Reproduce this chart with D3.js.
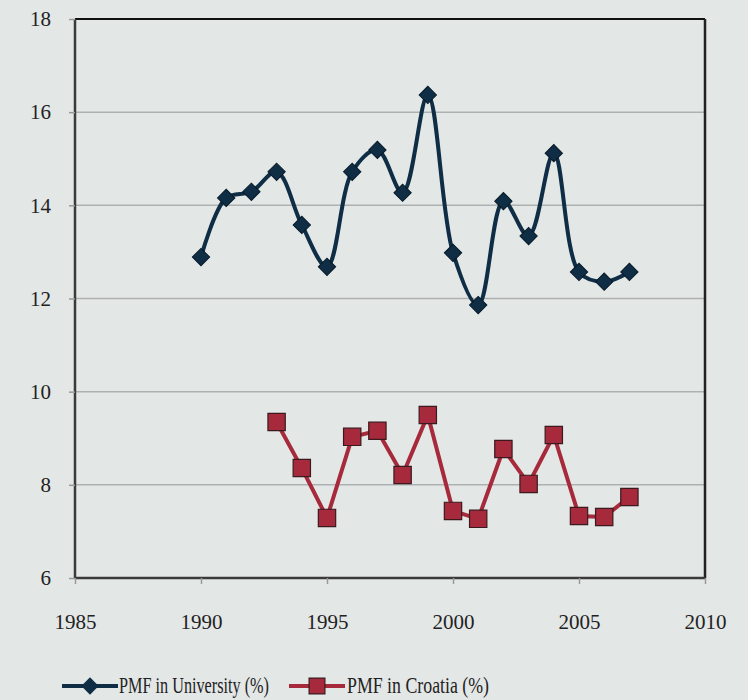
<!DOCTYPE html>
<html>
<head>
<meta charset="utf-8">
<script src="https://cdn.jsdelivr.net/npm/d3@7/dist/d3.min.js"></script>
<style>
  body { margin: 0; background: #e3e7e6; }
  svg { display: block; }
  text { font-family: "Liberation Serif", "DejaVu Serif", serif; fill: #222; }
</style>
</head>
<body>
<svg id="chart" width="748" height="700"></svg>
<script>
var width = 748;
var height = 700;

/* data */
var uni_years = [1990, 1991, 1992, 1993, 1994, 1995, 1996, 1997, 1998, 1999,
                 2000, 2001, 2002, 2003, 2004, 2005, 2006, 2007];
var uni_values = [12.89, 14.16, 14.29, 14.72, 13.58, 12.68, 14.72, 15.19, 14.27, 16.37,
                  12.98, 11.86, 14.09, 13.34, 15.12, 12.57, 12.36, 12.57];
var cro_years = [1993, 1994, 1995, 1996, 1997, 1998, 1999, 2000,
                 2001, 2002, 2003, 2004, 2005, 2006, 2007];
var cro_values = [9.35, 8.36, 7.29, 9.03, 9.16, 8.21, 9.50, 7.44,
                  7.27, 8.77, 8.02, 9.07, 7.33, 7.31, 7.74];
var x_ticks = [1985, 1990, 1995, 2000, 2005, 2010];
var y_ticks = [6, 8, 10, 12, 14, 16, 18];
var legend_labels = ["PMF in University (%)", "PMF in Croatia (%)"];

var uni_color = "#0f2d45";
var cro_color = "#a62a3b";

var plot_left = 75, plot_right = 705, plot_top = 19, plot_bottom = 578;

var x = d3.scaleLinear().domain([1985, 2010]).range([plot_left, plot_right]);
var y = d3.scaleLinear().domain([6, 18]).range([plot_bottom, plot_top]);

var svg = d3.select("#chart");

/* gridlines */
svg.append("g").selectAll("line").data(y_ticks.slice(1, -1)).enter().append("line")
    .attr("x1", plot_left).attr("x2", plot_right)
    .attr("y1", function (d) { return y(d); }).attr("y2", function (d) { return y(d); })
    .attr("stroke", "#aeb1b1").attr("stroke-width", 1.5);

/* frame */
svg.append("line").attr("x1", plot_left).attr("x2", plot_right)
    .attr("y1", plot_top).attr("y2", plot_top)
    .attr("stroke", "#111").attr("stroke-width", 2);
svg.append("line").attr("x1", plot_right).attr("x2", plot_right)
    .attr("y1", plot_top).attr("y2", plot_bottom)
    .attr("stroke", "#222").attr("stroke-width", 2.5);

/* axes */
var y_axis = d3.axisLeft(y).tickValues(y_ticks).tickSize(6).tickPadding(18);
var gy = svg.append("g").attr("transform", "translate(" + plot_left + ",0)").call(y_axis);
var x_axis = d3.axisBottom(x).tickValues(x_ticks).tickFormat(d3.format("d"))
    .tickSize(6).tickPadding(30);
var gx = svg.append("g").attr("transform", "translate(0," + plot_bottom + ")").call(x_axis);

[gy, gx].forEach(function (g) {
    g.select(".domain").attr("stroke", "#3a3a3a").attr("stroke-width", 2.5);
    g.selectAll(".tick line").attr("stroke", "#999").attr("stroke-width", 1.5);
    g.selectAll(".tick text").attr("font-size", 21).attr("fill", "#222")
        .attr("font-family", "'Liberation Serif', serif");
});
gy.select(".domain").attr("d", "M0," + plot_top + "V" + plot_bottom);
gx.select(".domain").attr("d", "M" + plot_left + ",0H" + plot_right);

/* series */
var uni = uni_years.map(function (d, i) { return [d, uni_values[i]]; });
var cro = cro_years.map(function (d, i) { return [d, cro_values[i]]; });

var smooth = d3.line().curve(d3.curveCatmullRom.alpha(0.5))
    .x(function (d) { return x(d[0]); }).y(function (d) { return y(d[1]); });
var straight = d3.line()
    .x(function (d) { return x(d[0]); }).y(function (d) { return y(d[1]); });

svg.append("path").datum(uni).attr("d", smooth)
    .attr("fill", "none").attr("stroke", uni_color).attr("stroke-width", 4);
svg.append("path").datum(cro).attr("d", straight)
    .attr("fill", "none").attr("stroke", cro_color).attr("stroke-width", 4);

var diamond = d3.symbol().type(d3.symbolSquare).size(150);
svg.append("g").selectAll("path").data(uni).enter().append("path")
    .attr("d", diamond)
    .attr("transform", function (d) {
        return "translate(" + x(d[0]) + "," + y(d[1]) + ") rotate(45)";
    })
    .attr("fill", uni_color).attr("stroke", "#081a28").attr("stroke-width", 1);

var square = d3.symbol().type(d3.symbolSquare).size(300);
svg.append("g").selectAll("path").data(cro).enter().append("path")
    .attr("d", square)
    .attr("transform", function (d) {
        return "translate(" + x(d[0]) + "," + y(d[1]) + ")";
    })
    .attr("fill", cro_color).attr("stroke", "#3a1a1f").attr("stroke-width", 1.2);

/* legend */
var legend_y = 686;
var lg = svg.append("g");
lg.append("line").attr("x1", 62).attr("x2", 118).attr("y1", legend_y).attr("y2", legend_y)
    .attr("stroke", uni_color).attr("stroke-width", 4);
lg.append("path").attr("d", diamond)
    .attr("transform", "translate(90," + legend_y + ") rotate(45)")
    .attr("fill", uni_color);
lg.append("text").attr("x", 119).attr("y", legend_y + 7).attr("font-size", 24)
    .attr("textLength", 150).attr("lengthAdjust", "spacingAndGlyphs")
    .text(legend_labels[0]);
lg.append("line").attr("x1", 289).attr("x2", 345).attr("y1", legend_y).attr("y2", legend_y)
    .attr("stroke", cro_color).attr("stroke-width", 4);
lg.append("path").attr("d", d3.symbol().type(d3.symbolSquare).size(250))
    .attr("transform", "translate(317," + legend_y + ")")
    .attr("fill", cro_color).attr("stroke", "#3a1a1f").attr("stroke-width", 1.2);
lg.append("text").attr("x", 347).attr("y", legend_y + 7).attr("font-size", 24)
    .attr("textLength", 142).attr("lengthAdjust", "spacingAndGlyphs")
    .text(legend_labels[1]);
</script>
</body>
</html>
